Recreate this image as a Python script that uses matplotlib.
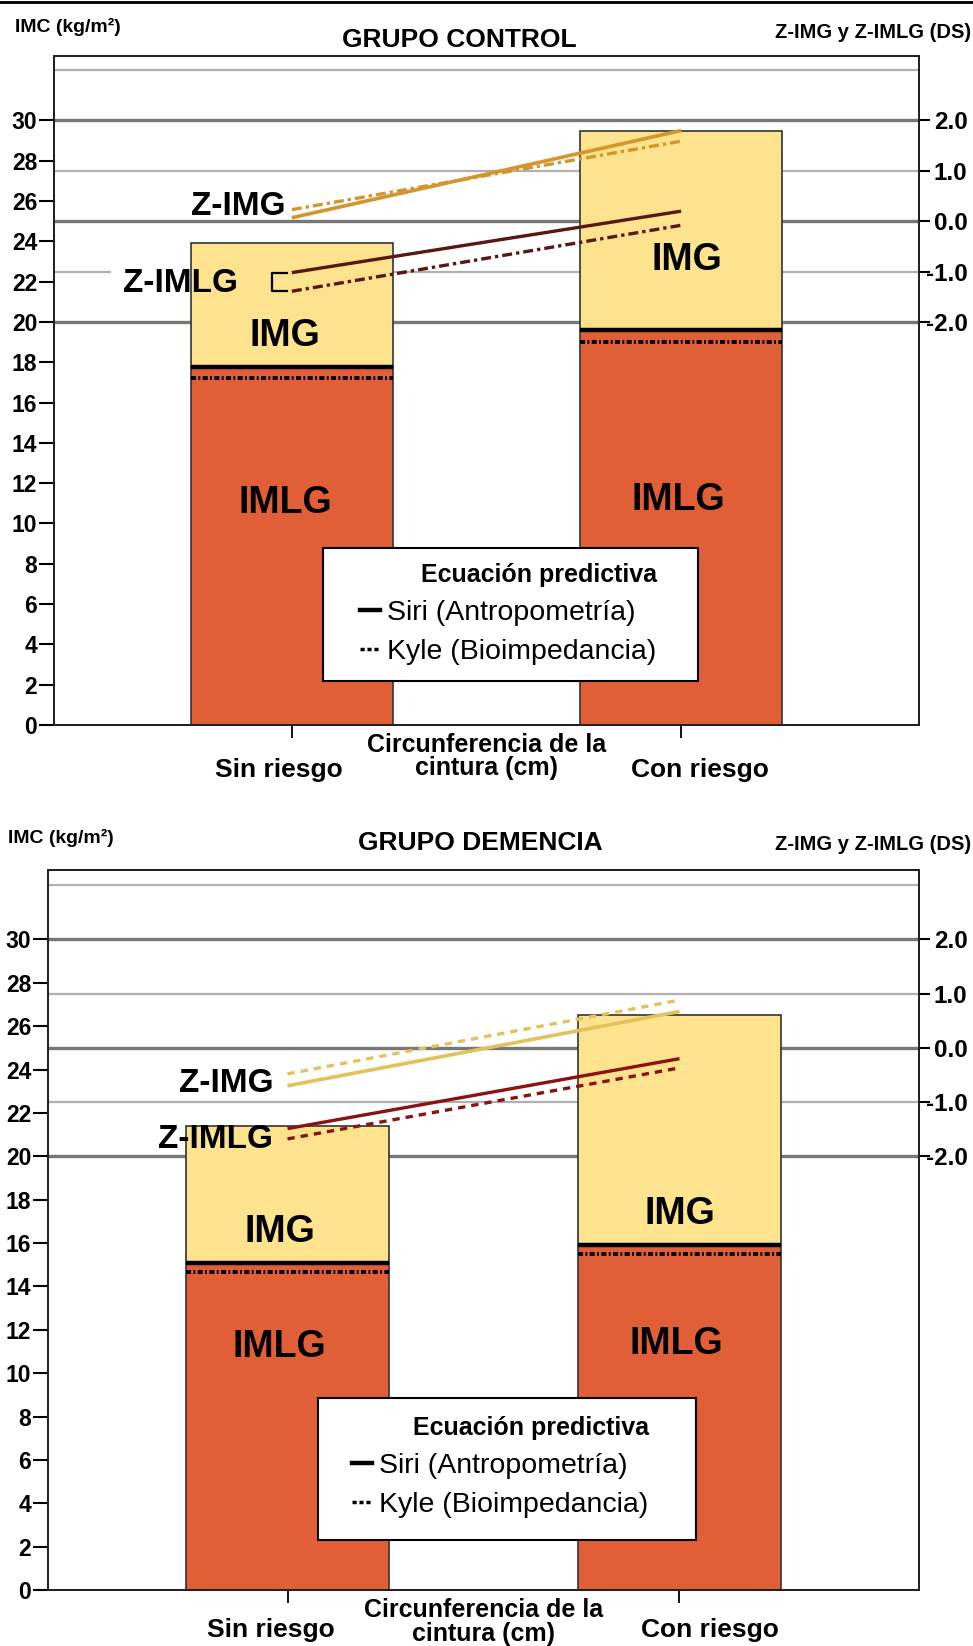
import matplotlib
matplotlib.use("Agg")
import matplotlib.pyplot as plt
from matplotlib.lines import Line2D
from matplotlib.patches import Rectangle
from matplotlib.transforms import ScaledTranslation

W, H = 973, 1646

CATEGORIES = ["Sin riesgo", "Con riesgo"]
X_TITLE = "Circunferencia de la\ncintura (cm)"
IMC_TICKS = list(range(0, 31, 2))
Z_TICKS = [-2, -1, 0, 1, 2]
Z_TICK_LABELS = ["-2.0", "-1.0", "0.0", "1.0", "2.0"]
Z_GRID_DARK = [-2, 0, 2]
Z_GRID_LIGHT = [-1, 1, 3]
Z_CENTER, Z_STEP = 25.0, 2.5  # IMC = 25 + 2.5 * z
YMAX = 33.2

# grupo control
CONTROL_IMC = [23.9, 29.5]
CONTROL_IMLG_SIRI = [17.75, 19.6]
CONTROL_IMLG_KYLE = [17.2, 19.0]
CONTROL_ZIMG_SIRI = [0.07, 1.80]
CONTROL_ZIMG_KYLE = [0.23, 1.59]
CONTROL_ZIMLG_SIRI = [-1.02, 0.20]
CONTROL_ZIMLG_KYLE = [-1.39, -0.08]

# grupo demencia
DEMENCIA_IMC = [21.4, 26.5]
DEMENCIA_IMLG_SIRI = [15.1, 15.9]
DEMENCIA_IMLG_KYLE = [14.65, 15.5]
DEMENCIA_ZIMG_SIRI = [-0.70, 0.67]
DEMENCIA_ZIMG_KYLE = [-0.48, 0.88]
DEMENCIA_ZIMLG_SIRI = [-1.49, -0.20]
DEMENCIA_ZIMLG_KYLE = [-1.68, -0.37]

YELLOW = "#FDE38D"
ORANGE = "#E15F37"
BAR_W = 0.52

plt.rcParams["font.family"] = ["Liberation Sans", "DejaVu Sans"]


def px(x, y):
    return x / W, 1 - y / H


def z_to_imc(z):
    return Z_CENTER + Z_STEP * z


def draw_panel(fig, box, d):
    x0, y0, x1, y1 = box
    l, b = px(x0, y1)
    r, t = px(x1, y0)
    ax = fig.add_axes([l, b, r - l, t - b])
    xs = [0, 1]

    # grid lines belong to the right-hand z scale
    for z in Z_GRID_DARK:
        ax.axhline(z_to_imc(z), color="#777777", lw=2.4, zorder=1)
    for z in Z_GRID_LIGHT:
        ax.axhline(z_to_imc(z), color="#b0b0b0", lw=1.6, zorder=1)

    imlg = d["imlg_siri"]
    img = [tot - lo for tot, lo in zip(d["imc"], imlg)]
    ax.bar(xs, imlg, width=BAR_W, color=ORANGE, edgecolor="#333333", lw=1.2, zorder=3)
    ax.bar(xs, img, bottom=imlg, width=BAR_W, color=YELLOW, edgecolor="#333333", lw=1.2, zorder=3)
    for x, ys, yk in zip(xs, d["imlg_siri"], d["imlg_kyle"]):
        ax.hlines(ys, x - BAR_W / 2, x + BAR_W / 2, color="black", lw=3.2, zorder=4)
        ax.hlines(yk, x - BAR_W / 2, x + BAR_W / 2, color="black", lw=2.8,
                  linestyles=[(0, (1.3, 0.6, 0.5, 0.6))], zorder=4)

    for x, y in d["img_pos"]:
        ax.text(x, y, "IMG", ha="center", va="center", fontsize=27, fontweight="bold", zorder=6)
    for x, y in d["imlg_pos"]:
        ax.text(x, y, "IMLG", ha="center", va="center", fontsize=27, fontweight="bold", zorder=6)

    if d.get("mask"):
        mx0, my0, mw, mh = d["mask"]
        ax.add_patch(Rectangle((mx0, my0), mw, mh, facecolor="white", edgecolor="none", zorder=2))

    ax.text(*d["zimg_pos"], "Z-IMG", ha="right", va="center", fontsize=24, fontweight="bold", zorder=6)
    ax.text(*d["zimlg_pos"], "Z-IMLG", ha="right", va="center", fontsize=24, fontweight="bold", zorder=6)

    ax.set_xlim(-0.611, 1.611)
    ax.set_ylim(0, YMAX)
    ax.set_yticks(IMC_TICKS)
    ax.set_yticklabels([str(v) for v in IMC_TICKS], fontsize=16.5, fontweight="bold")
    ax.tick_params(axis="y", length=11, width=1.5, pad=1, direction="out")
    ax.set_xticks(xs)
    ax.set_xticklabels(CATEGORIES, fontsize=19, fontweight="bold")
    ax.tick_params(axis="x", length=9.5, width=1.3, pad=d["xpad"], direction="out")
    for lab, dx in zip(ax.get_xticklabels(), d["xlab_shift"]):
        lab.set_transform(lab.get_transform() + ScaledTranslation(dx / 100, 0, fig.dpi_scale_trans))
    for sp in ax.spines.values():
        sp.set_linewidth(1.4)
        sp.set_color("#222222")

    ax.text(0.5, d["xtitle_y"], X_TITLE, transform=ax.get_xaxis_transform(), ha="center",
            va="center", fontsize=18, fontweight="bold", linespacing=d["xtitle_ls"])

    # z scores on the secondary axis, labels flush right
    tw = ax.twinx()
    tw.set_ylim((0 - Z_CENTER) / Z_STEP, (YMAX - Z_CENTER) / Z_STEP)
    tw.set_yticks(Z_TICKS)
    tw.set_yticklabels(Z_TICK_LABELS, fontsize=17.5, fontweight="bold")
    tw.tick_params(axis="y", length=8, width=1.5, pad=27)
    for lab in tw.get_yticklabels():
        lab.set_horizontalalignment("right")
    for sp in tw.spines.values():
        sp.set_linewidth(1.4)
        sp.set_color("#222222")

    c_img, c_imlg = d["c_img"], d["c_imlg"]
    tw.plot(xs, d["zimg_siri"], color=c_img, lw=2.6, solid_capstyle="butt")
    tw.plot(xs, d["zimg_kyle"], color=c_img, lw=2.4, linestyle=d["kyle_ls"])
    tw.plot(xs, d["zimlg_siri"], color=c_imlg, lw=2.4, solid_capstyle="butt")
    tw.plot(xs, d["zimlg_kyle"], color=c_imlg, lw=2.4, linestyle=d["kyle_ls"])
    if d.get("bracket"):
        bx_in, bx_out = -0.012, -0.052
        zs, zk = d["zimlg_siri"][0], d["zimlg_kyle"][0]
        tw.plot([bx_in, bx_out, bx_out, bx_in], [zs, zs, zk, zk], color="black", lw=1.6)

    # legend
    fx0, fy0, fx1, fy1 = d["leg_box"]
    lx, ly = px(fx0, fy1)
    rx, ry = px(fx1, fy0)
    fig.add_artist(Rectangle((lx, ly), rx - lx, ry - ly, transform=fig.transFigure,
                             facecolor="white", edgecolor="black", lw=1.5, zorder=3))
    handles = [Line2D([], [], color="black", lw=3.2),
               Line2D([], [], color="black", lw=2.5, linestyle=(0, (1.2, 0.8)))]
    leg = fig.legend(handles, ["Siri (Antropometría)", "Kyle (Bioimpedancia)"],
                     title="Ecuación predictiva", loc="upper left",
                     bbox_to_anchor=px(*d["leg_anchor"]), bbox_transform=fig.transFigure,
                     frameon=False, fontsize=20.5, borderpad=0, handlelength=0.7,
                     handletextpad=0.25, labelspacing=0.45, alignment="right")
    leg.get_title().set_fontweight("bold")
    leg.get_title().set_fontsize(18)
    leg.set_zorder(5)

    # headers
    fig.text(*px(*d["imc_pos"]), "IMC (kg/m²)", ha="left", va="center", fontsize=14, fontweight="bold")
    fig.text(*px(*d["title_pos"]), d["title"], ha="center", va="center", fontsize=19, fontweight="bold")
    fig.text(*px(*d["z_pos"]), "Z-IMG y Z-IMLG (DS)", ha="right", va="center", fontsize=14.5,
             fontweight="bold")
    return ax


fig = plt.figure(figsize=(W / 100, H / 100), dpi=100)
fig.add_artist(Line2D([0, 1], [1 - 1.5 / H] * 2, transform=fig.transFigure, color="black", lw=2))

control = {
    "imc": CONTROL_IMC, "imlg_siri": CONTROL_IMLG_SIRI, "imlg_kyle": CONTROL_IMLG_KYLE,
    "zimg_siri": CONTROL_ZIMG_SIRI, "zimg_kyle": CONTROL_ZIMG_KYLE,
    "zimlg_siri": CONTROL_ZIMLG_SIRI, "zimlg_kyle": CONTROL_ZIMLG_KYLE,
    "c_img": "#D4962C", "c_imlg": "#5A1712", "kyle_ls": (0, (3, 1.2, 1, 1.2)),
    "img_pos": [(-0.017, 19.3), (1.015, 23.1)],
    "imlg_pos": [(-0.017, 11.0), (0.992, 11.15)],
    "zimg_pos": (-0.017, 25.73), "zimlg_pos": (-0.138, 21.93),
    "mask": (-0.465, 21.9, 0.22, 1.2), "bracket": True,
    "xlab_shift": [-13, 19], "xtitle_y": -0.047, "xtitle_ls": 0.92, "xpad": 14,
    "leg_box": (322.7, 548.3, 698.3, 680.7), "leg_anchor": (346, 549),
    "imc_pos": (15, 27), "title_pos": (459, 40), "z_pos": (971, 32),
    "title": "GRUPO CONTROL",
}
demencia = {
    "imc": DEMENCIA_IMC, "imlg_siri": DEMENCIA_IMLG_SIRI, "imlg_kyle": DEMENCIA_IMLG_KYLE,
    "zimg_siri": DEMENCIA_ZIMG_SIRI, "zimg_kyle": DEMENCIA_ZIMG_KYLE,
    "zimlg_siri": DEMENCIA_ZIMLG_SIRI, "zimlg_kyle": DEMENCIA_ZIMLG_KYLE,
    "c_img": "#E2C25C", "c_imlg": "#8A1212", "kyle_ls": (0, (2.2, 1.8)),
    "img_pos": [(-0.02, 16.5), (1.0, 17.35)],
    "imlg_pos": [(-0.02, 11.2), (0.993, 11.35)],
    "zimg_pos": (-0.035, 23.37), "zimlg_pos": (-0.038, 20.75),
    "mask": None, "bracket": False,
    "xlab_shift": [-17, 30], "xtitle_y": -0.044, "xtitle_ls": 1.0, "xpad": 11,
    "leg_box": (318, 1398, 696, 1540), "leg_anchor": (338, 1402),
    "imc_pos": (8.4, 838), "title_pos": (480, 843), "z_pos": (971, 844),
    "title": "GRUPO DEMENCIA",
}

draw_panel(fig, (54, 56, 919, 725), control)
draw_panel(fig, (48, 870, 919, 1590), demencia)

fig.savefig("out.png", dpi=100)
